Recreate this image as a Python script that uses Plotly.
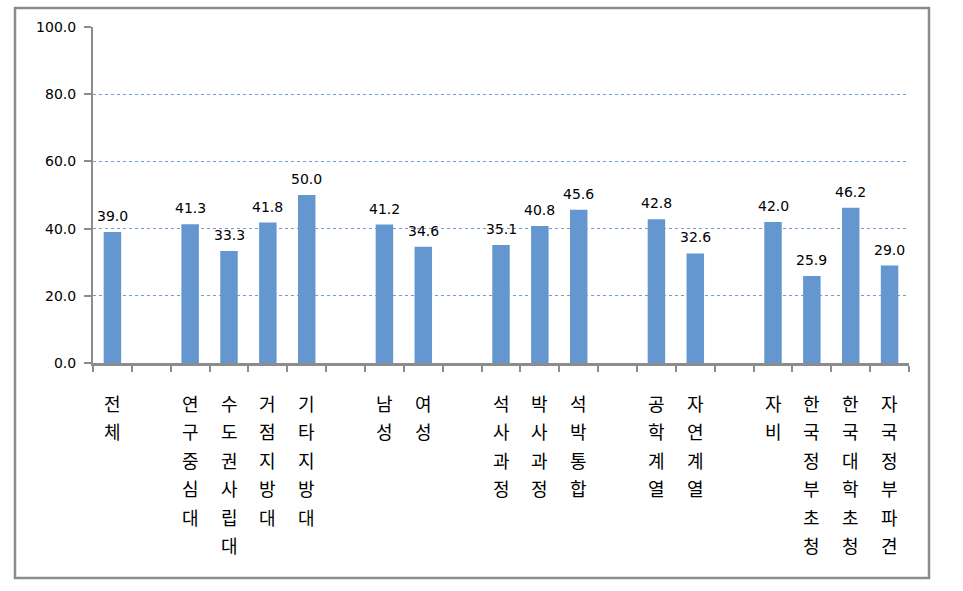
import plotly.graph_objects as go

categories = ["전체", "", "연구중심대", "수도권사립대", "거점지방대", "기타지방대", "",
              "남성", "여성", "", "석사과정", "박사과정", "석박통합", "",
              "공학계열", "자연계열", "", "자비", "한국정부초청", "한국대학초청", "자국정부파견"]
values = [39.0, None, 41.3, 33.3, 41.8, 50.0, None,
          41.2, 34.6, None, 35.1, 40.8, 45.6, None,
          42.8, 32.6, None, 42.0, 25.9, 46.2, 29.0]
y_ticks = [0, 20, 40, 60, 80, 100]

# unique keys for category axis (spacers need distinct names)
keys = [c if c else " " * (i + 1) for i, c in enumerate(categories)]

W, H = 963, 591
l, r, t, b = 93, 54, 27, 228
pw, ph = W - l - r, H - t - b

fig = go.Figure()
fig.add_trace(go.Bar(
    x=keys, y=values,
    marker=dict(color="#6497D0", line=dict(width=0)),
    hoverinfo="x+y",
))

annotations = []
# value labels above bars
for k, v in zip(keys, values):
    if v is None:
        continue
    annotations.append(dict(
        x=k, y=v, xref="x", yref="y", text=f"{v:.1f}", showarrow=False,
        yanchor="bottom", yshift=6,
        font=dict(family="DejaVu Sans", size=14, color="#000000"),
    ))
# vertical stacked category labels (one character per line)
first_center_px = 403
line_step_px = 28.4
for k, c in zip(keys, categories):
    for i, ch in enumerate(c):
        ypx = first_center_px + i * line_step_px
        annotations.append(dict(
            x=k, y=(H - b - ypx) / ph, xref="x", yref="paper", text=ch,
            showarrow=False, yanchor="middle", xanchor="center",
            font=dict(family="Noto Sans CJK KR", size=18, color="#000000"),
        ))

fig.update_layout(
    width=W, height=H,
    margin=dict(l=l, r=r, t=t, b=b),
    plot_bgcolor="white", paper_bgcolor="white",
    bargap=0.55, showlegend=False,
    annotations=annotations,
    shapes=[dict(type="rect", xref="paper", yref="paper",
                 x0=(15 - l) / pw, x1=(929 - l) / pw,
                 y0=(H - 578 - b) / ph, y1=(H - 8 - b) / ph,
                 line=dict(color="#8c8c8c", width=2.5), layer="below")],
)
fig.update_xaxes(
    type="category", categoryorder="array", categoryarray=keys,
    range=[-0.5, len(keys) - 0.5],
    tickmode="array", tickvals=keys, ticktext=["" for _ in keys],
    tickson="boundaries", ticks="outside", ticklen=6, tickwidth=2, tickcolor="#8c8c8c",
    showline=True, linecolor="#8c8c8c", linewidth=3,
    showgrid=False,
)
fig.update_yaxes(
    range=[0, 100], tickmode="array", tickvals=y_ticks, tickformat=".1f",
    ticks="outside", ticklen=7, tickwidth=2, tickcolor="#8c8c8c",
    showline=True, linecolor="#8c8c8c", linewidth=2,
    ticklabelstandoff=5,
    tickfont=dict(family="DejaVu Sans", size=14, color="#000000"),
    showgrid=True, gridcolor="#6f9bd6", griddash="dot", gridwidth=1,
    zeroline=False,
)
fig.write_html("out.html")
